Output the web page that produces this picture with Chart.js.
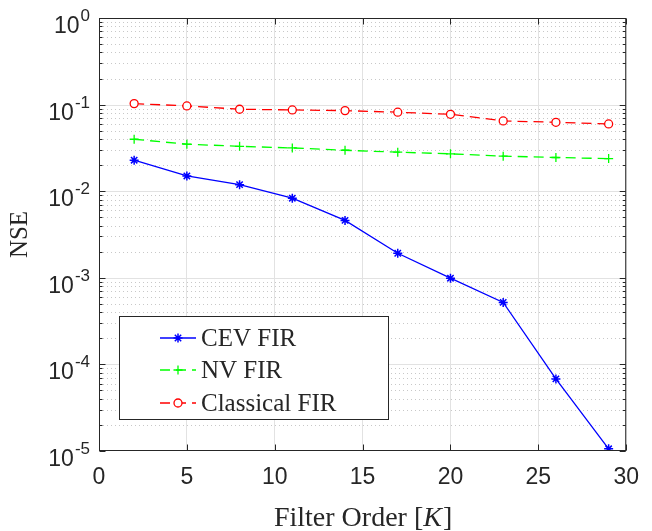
<!DOCTYPE html>
<html><head><meta charset="utf-8">
<script src="https://cdn.jsdelivr.net/npm/chart.js@4/dist/chart.umd.min.js"></script>
<style>html,body{margin:0;padding:0;background:#fff;}#wrap{width:652px;height:531px;}</style>
</head><body><div id="wrap"><canvas id="c" width="652" height="531"></canvas></div>
<script>
// ---- data ----
const filterOrders = [2, 5, 8, 11, 14, 17, 20, 23, 26, 29];
const cevFir = [0.0228, 0.0150, 0.0119, 0.0083, 0.0046, 0.00192, 0.00099, 0.00052, 0.000068, 0.0000106];
const nvFir = [0.0398, 0.0349, 0.0330, 0.0316, 0.0297, 0.0282, 0.0270, 0.0254, 0.0245, 0.0238];
const classicalFir = [0.1027, 0.0965, 0.0884, 0.0868, 0.0852, 0.0817, 0.0773, 0.0648, 0.0625, 0.0598];
const seriesNames = ['CEV FIR', 'NV FIR', 'Classical FIR'];
const xTickValues = [0, 5, 10, 15, 20, 25, 30];
const yTickExponents = [-5, -4, -3, -2, -1, 0];
const yMinorMultipliers = [2, 3, 4, 5, 6, 7, 8, 9];
const xTitleParts = ['Filter Order [', 'K', ']'];
const yTitle = 'NSE';

const AX = '#262626';
const SANS = '"Liberation Sans", Arial, sans-serif';
const SERIF = '"Liberation Serif", "Times New Roman", serif';

function pts(vals) { return filterOrders.map((x, i) => ({ x: x, y: vals[i] })); }

function seg(ctx, x1, y1, x2, y2) { ctx.beginPath(); ctx.moveTo(x1, y1); ctx.lineTo(x2, y2); ctx.stroke(); }

const matlabPlugin = {
  id: 'matlabAxes',
  beforeDatasetsDraw(chart) {
    const { ctx, chartArea: a, scales: { y } } = chart;
    ctx.save();
    ctx.beginPath(); ctx.rect(a.left, a.top, a.right - a.left, a.bottom - a.top); ctx.clip();
    ctx.lineWidth = 1;
    ctx.strokeStyle = '#c8c8c8';
    ctx.setLineDash([1, 3]);
    yTickExponents.forEach((e, k) => {
      if (k === yTickExponents.length - 1) return;
      yMinorMultipliers.forEach(m => {
        const py = Math.round(y.getPixelForValue(m * Math.pow(10, e))) + 0.5;
        seg(ctx, a.left, py, a.right, py);
      });
    });
    ctx.setLineDash([]);
    ctx.strokeStyle = '#e2e2e2';
    yTickExponents.forEach(e => {
      const py = Math.round(y.getPixelForValue(Math.pow(10, e))) + 0.5;
      seg(ctx, a.left, py, a.right, py);
    });
    ctx.restore();
  },
  afterDatasetsDraw(chart) {
    const { ctx, chartArea: a, scales: { x, y } } = chart;
    ctx.save();
    ctx.strokeStyle = AX; ctx.lineWidth = 1; ctx.setLineDash([]);
    const L = a.left + 0.5, R = a.right - 0.5, T = a.top + 0.5, B = a.bottom - 0.5;
    ctx.strokeRect(L, T, R - L, B - T);
    xTickValues.forEach(v => {
      const px = Math.round(x.getPixelForValue(v)) + 0.5;
      seg(ctx, px, B, px, B - 6);
      seg(ctx, px, T, px, T + 6);
    });
    yTickExponents.forEach((e, k) => {
      const py = Math.round(y.getPixelForValue(Math.pow(10, e))) + 0.5;
      seg(ctx, L, py, L + 6, py); seg(ctx, R, py, R - 6, py);
      if (k === yTickExponents.length - 1) return;
      yMinorMultipliers.forEach(m => {
        const q = Math.round(y.getPixelForValue(m * Math.pow(10, e))) + 0.5;
        seg(ctx, L, q, L + 3, q); seg(ctx, R, q, R - 3, q);
      });
    });
    ctx.restore();
  },
  afterDraw(chart) {
    const { ctx, chartArea: a, scales: { y } } = chart;
    ctx.save();
    ctx.fillStyle = AX;
    // y tick labels 10^e
    const rightX = 90;
    yTickExponents.forEach(e => {
      const T = y.getPixelForValue(Math.pow(10, e));
      const exp = String(e);
      ctx.font = '17px ' + SANS;
      const wE = ctx.measureText(exp).width;
      ctx.textBaseline = 'alphabetic'; ctx.textAlign = 'left';
      ctx.fillText(exp, rightX - wE, T + 3);
      ctx.font = '23px ' + SANS;
      const wB = ctx.measureText('10').width;
      ctx.fillText('10', rightX - wE - wB - 1, T + 15);
    });
    // y title
    ctx.save();
    ctx.translate(20, (a.top + a.bottom) / 2);
    ctx.rotate(-Math.PI / 2);
    ctx.font = '25px ' + SERIF;
    ctx.textAlign = 'center'; ctx.textBaseline = 'middle';
    ctx.fillText(yTitle, 0, 0);
    ctx.restore();
    // x title
    const fN = '28px ' + SERIF, fI = 'italic 28px ' + SERIF;
    ctx.font = fN; const w0 = ctx.measureText(xTitleParts[0]).width, w2 = ctx.measureText(xTitleParts[2]).width;
    ctx.font = fI; const w1 = ctx.measureText(xTitleParts[1]).width;
    let sx = (a.left + a.right) / 2 - (w0 + w1 + w2) / 2;
    const by = 526;
    ctx.textAlign = 'left'; ctx.textBaseline = 'alphabetic';
    ctx.font = fN; ctx.fillText(xTitleParts[0], sx, by); sx += w0;
    ctx.font = fI; ctx.fillText(xTitleParts[1], sx, by); sx += w1 + 1;
    ctx.font = fN; ctx.fillText(xTitleParts[2], sx, by);
    // legend
    const bx = 119.5, bt = 316.5, bw = 269, bh = 103;
    ctx.fillStyle = '#ffffff'; ctx.fillRect(bx, bt, bw, bh);
    ctx.strokeStyle = AX; ctx.lineWidth = 1; ctx.strokeRect(bx, bt, bw, bh);
    const rows = [338, 370, 403];
    chart.data.datasets.forEach((ds, i) => {
      const ry = rows[i];
      ctx.save();
      ctx.strokeStyle = ds.borderColor; ctx.lineWidth = ds.borderWidth;
      ctx.setLineDash(ds.borderDash || []);
      seg(ctx, 160, ry, 196, ry);
      ctx.setLineDash([]);
      ctx.fillStyle = ds.pointBackgroundColor || ds.backgroundColor;
      ctx.strokeStyle = ds.borderColor; ctx.lineWidth = ds.pointBorderWidth;
      Chart.helpers.drawPoint(ctx, { pointStyle: ds.pointStyle, rotation: 0, radius: ds.pointRadius, borderWidth: ds.pointBorderWidth }, 178, ry);
      ctx.restore();
      ctx.fillStyle = AX; ctx.font = '25px ' + SERIF;
      ctx.textAlign = 'left'; ctx.textBaseline = 'middle';
      ctx.fillText(ds.label, 201, ry + 1);
    });
    ctx.restore();
  }
};

new Chart(document.getElementById('c'), {
  type: 'line',
  data: {
    datasets: [
      { label: seriesNames[0], data: pts(cevFir), borderColor: '#0000ff', backgroundColor: '#0000ff', pointBackgroundColor: '#0000ff',
        borderWidth: 1.3, borderDash: [], pointStyle: 'star', pointRadius: 4.5, pointBorderWidth: 1.5, tension: 0 },
      { label: seriesNames[1], data: pts(nvFir), borderColor: '#00ff00', backgroundColor: '#00ff00', pointBackgroundColor: '#00ff00',
        borderWidth: 1.3, borderDash: [10, 6], pointStyle: 'cross', pointRadius: 4.5, pointBorderWidth: 1.3, tension: 0 },
      { label: seriesNames[2], data: pts(classicalFir), borderColor: '#ff0000', backgroundColor: '#ffffff', pointBackgroundColor: '#ffffff',
        borderWidth: 1.3, borderDash: [10, 6], pointStyle: 'circle', pointRadius: 4, pointBorderWidth: 1.3, tension: 0 }
    ]
  },
  options: {
    responsive: false, animation: false, devicePixelRatio: 1,
    layout: { padding: { left: 0, top: 18, right: 22, bottom: 0 } },
    plugins: { legend: { display: false }, tooltip: { enabled: false } },
    scales: {
      x: {
        type: 'linear', min: 0, max: 30,
        afterBuildTicks: s => { s.ticks = xTickValues.map(v => ({ value: v })); },
        afterFit: s => { s.height = 80; },
        grid: { color: '#e2e2e2', lineWidth: 1, drawTicks: false },
        border: { display: false },
        ticks: { color: AX, font: { family: SANS, size: 23 }, padding: 13, maxRotation: 0, autoSkip: false }
      },
      y: {
        type: 'logarithmic', min: 1e-5, max: 1,
        afterBuildTicks: s => { s.ticks = yTickExponents.map(e => ({ value: Math.pow(10, e) })); },
        afterFit: s => { s.width = 99; },
        grid: { display: false },
        border: { display: false },
        ticks: { display: false }
      }
    }
  },
  plugins: [matlabPlugin]
});
</script></body></html>
